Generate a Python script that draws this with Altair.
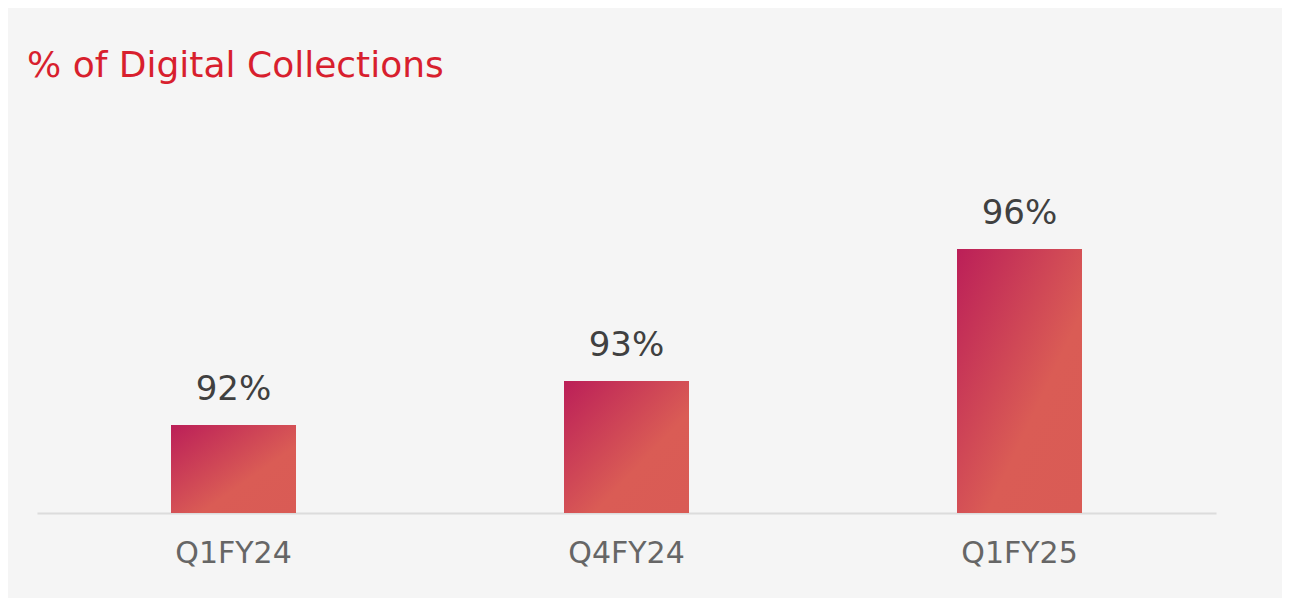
import altair as alt
import pandas as pd

quarters = ["Q1FY24", "Q4FY24", "Q1FY25"]
values = [92, 93, 96]
labels = ["92%", "93%", "96%"]

df = pd.DataFrame({"quarter": quarters, "value": values, "label": labels})

FONT = "DejaVu Sans"

x = alt.X(
    "quarter:N",
    sort=quarters,
    scale=alt.Scale(paddingInner=0, paddingOuter=0),
    axis=alt.Axis(
        title=None,
        labelAngle=0,
        labelFont=FONT,
        labelFontSize=30,
        labelColor="#666666",
        labelPadding=25,
        ticks=False,
        domainColor="#dcdcdc",
        domainWidth=2,
        grid=False,
    ),
)
y = alt.Y("value:Q", scale=alt.Scale(domain=[90, 99], nice=False, zero=False), axis=None)

bars = alt.Chart(df).mark_bar(
    size=125,
    color=alt.Gradient(
        gradient="linear",
        x1=0, y1=0, x2=1, y2=1,
        stops=[
            alt.GradientStop(offset=0, color="#bb1f58"),
            alt.GradientStop(offset=0.62, color="#da5c55"),
            alt.GradientStop(offset=1, color="#d95b55"),
        ],
    ),
).encode(x=x, y=y, y2=alt.datum(90))

text = alt.Chart(df).mark_text(
    baseline="bottom", dy=-18, font=FONT, fontSize=34, color="#404040"
).encode(x=x, y=y, text="label:N")

chart = (
    alt.layer(bars, text)
    .properties(
        width=1179,
        height=396,
        autosize=alt.AutoSizeParams(type="none"),
        padding={"left": 29, "top": 109, "right": 66, "bottom": 85},
        background="#f5f5f5",
        title=alt.TitleParams(
            text="% of Digital Collections",
            anchor="start",
            frame="group",
            dx=-10,
            offset=32,
            font=FONT,
            fontSize=36,
            fontWeight="normal",
            color="#d81f2e",
        ),
    )
    .configure_view(stroke=None)
)

chart.save("out.html", embed_options={"renderer": "svg", "actions": False})
